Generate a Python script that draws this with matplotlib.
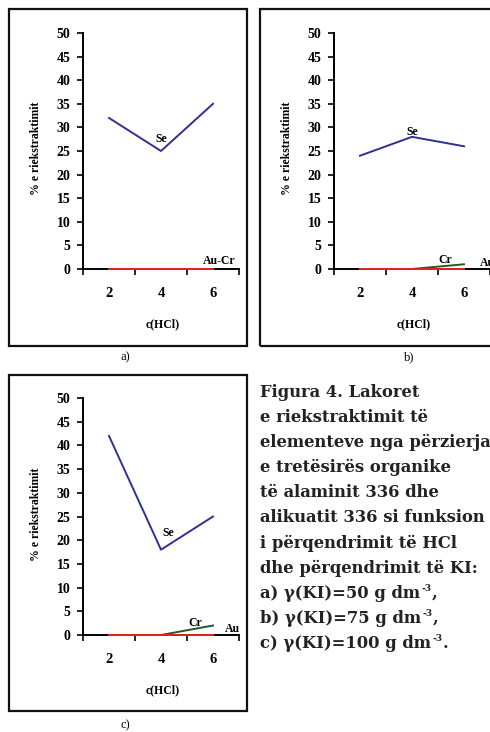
import matplotlib
matplotlib.use('Agg')
import matplotlib.pyplot as plt
from matplotlib.patches import Rectangle

plt.rcParams['font.family'] = ['Liberation Serif', 'DejaVu Serif']

# vlerat e lexuara nga figura
hcl = ['2', '4', '6']
se_a = [32, 25, 35]
aucr_a = [0, 0, 0]
se_b = [24, 28, 26]
cr_b = [0, 0, 1]
au_b = [0, 0, 0]
se_c = [42, 18, 25]
cr_c = [0, 0, 2]
au_c = [0, 0, 0]

# (teksti, eksponenti, pjesa pas eksponentit)
caption = [('Figura 4. Lakoret', '', ''),
           ('e riekstraktimit të', '', ''),
           ('elementeve nga përzierja', '', ''),
           ('e tretësirës organike', '', ''),
           ('të alaminit 336 dhe', '', ''),
           ('alikuatit 336 si funksion', '', ''),
           ('i përqendrimit të HCl', '', ''),
           ('dhe përqendrimit të KI:', '', ''),
           ('a) γ(KI)=50 g dm', '-3', ','),
           ('b) γ(KI)=75 g dm', '-3', ','),
           ('c) γ(KI)=100 g dm', '-3', '.')]

SE = '#2E3192'
CR = '#1F5A2E'
AU = '#E8221B'

W, H = 490, 732
fig = plt.figure(figsize=(W / 100, H / 100), dpi=100)


def px(x0, y0, x1, y1):
    # pixel box -> figure fraction [left, bottom, width, height]
    return [x0 / W, 1 - y1 / H, (x1 - x0) / W, (y1 - y0) / H]


def panel(rect, lines, labels):
    ax = fig.add_axes(rect)
    ax.patch.set_alpha(0)
    xs = [0.5, 1.5, 2.5]
    for vals, col in lines:
        ax.plot(xs, vals, color=col, lw=1.4, clip_on=False, zorder=5)
    ax.set_xlim(0, 3)
    ax.set_ylim(0, 50)
    for s in ['top', 'right']:
        ax.spines[s].set_visible(False)
    for s in ['left', 'bottom']:
        ax.spines[s].set_linewidth(1.4)
    ax.set_yticks(range(0, 51, 5))
    ax.tick_params(axis='y', direction='out', length=4, width=1.2, pad=5, labelsize=10)
    for t in ax.get_yticklabels():
        t.set_fontweight('bold')
    ax.set_xticks([0, 1, 2, 3])
    ax.set_xticklabels([])
    ax.tick_params(axis='x', which='major', direction='out', length=4, width=1.2)
    ax.set_xticks(xs, minor=True)
    ax.set_xticklabels(hcl, minor=True, fontsize=10.5, fontweight='bold')
    ax.tick_params(axis='x', which='minor', length=0, pad=13)
    ax.set_ylabel('% e riekstraktimit', fontsize=8.5, fontweight='bold')
    ax.yaxis.set_label_coords(-0.26, 0.51)
    ax.set_xlabel('c(HCl)', fontsize=8.5, fontweight='bold')
    ax.xaxis.set_label_coords(0.51, -0.21)
    for x, y, s in labels:
        ax.text(x, y, s, fontsize=8.5, fontweight='bold', ha='center', va='center',
                clip_on=False)
    return ax


panel(px(83, 33, 239, 269), [(se_a, SE), (aucr_a, AU)],
      [(1.5, 27.5, 'Se'), (2.62, 1.6, 'Au-Cr')])
panel(px(334, 33, 490, 269), [(se_b, SE), (cr_b, CR), (au_b, AU)],
      [(1.5, 29, 'Se'), (2.13, 2.0, 'Cr'), (2.95, 1.3, 'Au')])
panel(px(83, 398, 239, 635), [(se_c, SE), (cr_c, CR), (au_c, AU)],
      [(1.63, 21.5, 'Se'), (2.15, 2.6, 'Cr'), (2.87, 1.3, 'Au')])

# kornizat
for x0, y0, x1, y1 in [(9, 9, 247, 346), (260, 9, 500, 346), (9, 375, 247, 711)]:
    l, b, w, h = px(x0, y0, x1, y1)
    fig.add_artist(Rectangle((l, b), w, h, transform=fig.transFigure, fill=False,
                             lw=1.6, edgecolor='#111111'))

for x, y, s in [(125, 357, 'a)'), (409, 357, 'b)'), (125, 725, 'c)')]:
    fig.text(x / W, 1 - y / H, s, fontsize=9, ha='center', va='center')

# teksti i figures
renderer = fig.canvas.get_renderer()
style = dict(fontweight='bold', family='DejaVu Serif', color='#222222', va='baseline')
for i, (line, sup, tail) in enumerate(caption):
    yb = 397 + i * 25.1
    t = fig.text(260 / W, 1 - yb / H, line, fontsize=11.8, ha='left', **style)
    if sup:
        x_end = t.get_window_extent(renderer).x1
        s = fig.text((x_end + 1) / W, 1 - (yb - 7) / H, sup, fontsize=6.5, ha='left', **style)
        x_end = s.get_window_extent(renderer).x1
        fig.text(x_end / W, 1 - yb / H, tail, fontsize=11.8, ha='left', **style)

plt.savefig('out.png', dpi=100)
